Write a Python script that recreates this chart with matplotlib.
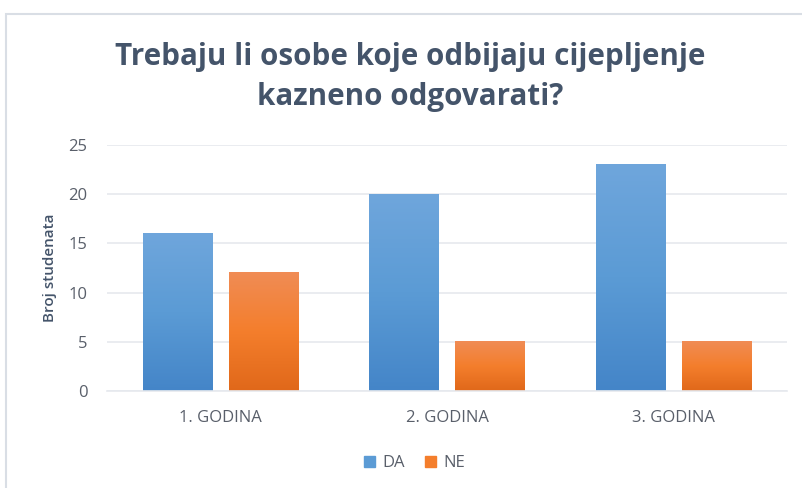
import numpy as np
import matplotlib.pyplot as plt
from matplotlib.patches import Rectangle
from matplotlib.colors import LinearSegmentedColormap

# Survey answers per study year
categories = ["1. GODINA", "2. GODINA", "3. GODINA"]
da_values = [16, 20, 23]
ne_values = [12, 5, 5]
series_names = ["DA", "NE"]

title = "Trebaju li osobe koje odbijaju cijepljenje\nkazneno odgovarati?"
y_label = "Broj studenata"

text_color = "#595F6A"
title_color = "#44546A"
blue_grad = ["#4485C8", "#5B9BD5", "#6FA6DC"]
orange_grad = ["#E0681A", "#F47E2C", "#F08C55"]

plt.rcParams['font.family'] = ['Open Sans', 'DejaVu Sans']


def gradient_bars(ax, bars, colors):
    """Fill each bar with a vertical gradient (dark at bottom, light at top)."""
    cmap = LinearSegmentedColormap.from_list("grad", colors)
    grad = np.linspace(0, 1, 256).reshape(-1, 1)
    for bar in bars:
        x0, y0 = bar.get_x(), bar.get_y()
        w, h = bar.get_width(), bar.get_height()
        bar.set_facecolor("none")
        ax.imshow(grad, cmap=cmap, origin="lower", aspect="auto",
                  extent=(x0, x0 + w, y0, y0 + h), zorder=2)


fig = plt.figure(figsize=(8.02, 4.88), dpi=100)

# light chart frame
fig.patches.append(Rectangle((6 / 802, -0.1), 1.2, 1 - 14 / 488 + 0.1,
                             transform=fig.transFigure, fill=False,
                             edgecolor="#D9DEE5", linewidth=1.5))

ax = fig.add_axes([107 / 802, 1 - 391 / 488, 680 / 802, 246 / 488])

x = np.arange(len(categories))
width = 0.305
offset = 0.19
bars_da = ax.bar(x - offset, da_values, width, color=blue_grad[1], label=series_names[0], zorder=2)
bars_ne = ax.bar(x + offset, ne_values, width, color=orange_grad[1], label=series_names[1], zorder=2)
gradient_bars(ax, bars_da, blue_grad)
gradient_bars(ax, bars_ne, orange_grad)

ax.set_xlim(-0.5, 2.5)
ax.set_ylim(0, 25)
ax.set_yticks(range(0, 26, 5))
ax.set_xticks(x)
ax.set_xticklabels(categories)
ax.yaxis.grid(True, color="#E6E9EE", linewidth=1.2)
ax.set_axisbelow(True)
for side in ["top", "right", "left"]:
    ax.spines[side].set_visible(False)
ax.spines["bottom"].set_color("#E6E9EE")
ax.spines["bottom"].set_linewidth(1.2)
ax.tick_params(axis="both", length=0, colors=text_color, labelsize=12)
ax.tick_params(axis="x", pad=14)
ax.tick_params(axis="y", pad=14)

ax.set_ylabel(y_label, color=title_color, fontsize=11, fontweight="semibold", labelpad=8)

fig.text(0.512, 1 - 77 / 488, title, ha="center", va="center", fontsize=21.3,
         fontweight="bold", color=title_color, linespacing=1.45)

handles = [Rectangle((0, 0), 1, 1, color=blue_grad[1]), Rectangle((0, 0), 1, 1, color=orange_grad[1])]
leg = fig.legend(handles, series_names, loc="center", bbox_to_anchor=(0.517, 1 - 463 / 488),
                 ncol=2, frameon=False, fontsize=12, handlelength=0.65, handleheight=0.65,
                 columnspacing=1.2, handletextpad=0.45)
for t in leg.get_texts():
    t.set_color(text_color)

fig.savefig("out.png", dpi=100)
